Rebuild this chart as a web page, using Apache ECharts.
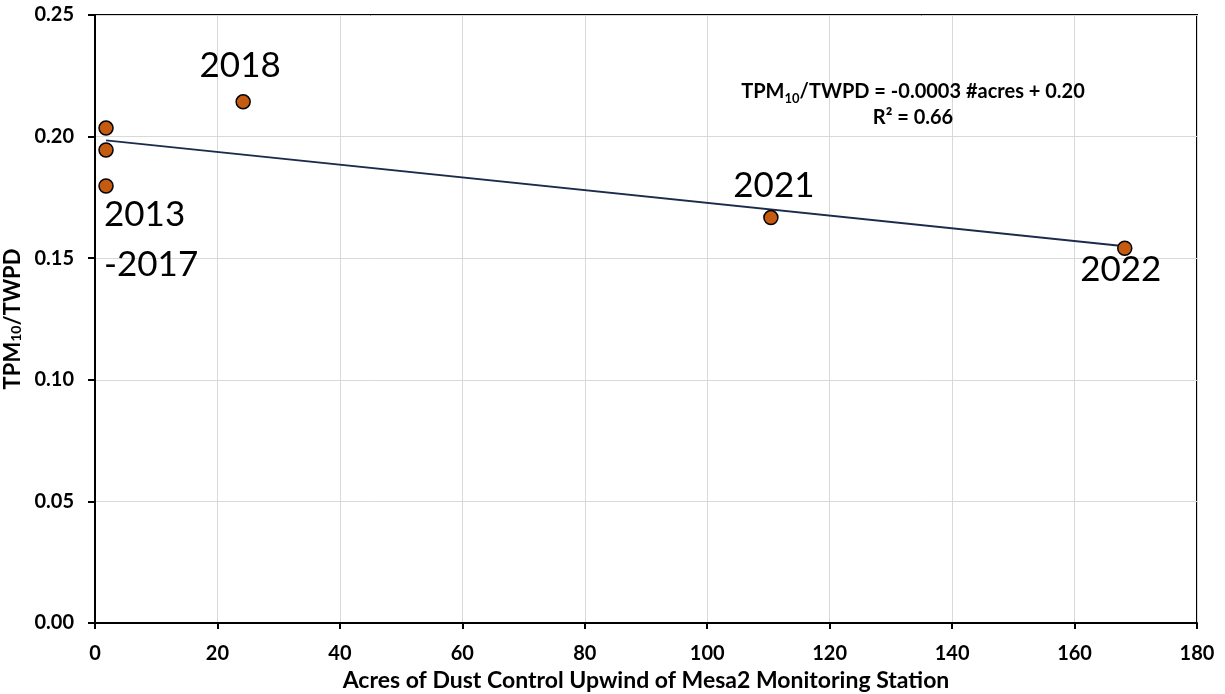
<!DOCTYPE html>
<html><head><meta charset="utf-8">
<script src="https://cdn.jsdelivr.net/npm/echarts@6/dist/echarts.min.js"></script>
<style>html,body{margin:0;padding:0;background:#fff}#c{width:1225px;height:694px}</style>
</head><body><div id="c"></div>
<script>
const acres = [1.8, 1.8, 1.8, 24.2, 110.4, 168.2];
const ratio = [0.2035, 0.1945, 0.1797, 0.2143, 0.1667, 0.1541];
const yearLabels = ['', '', '2013\n-2017', '2018', '2021', '2022'];
const xTitle = 'Acres of Dust Control Upwind of Mesa2 Monitoring Station';

// least squares fit (trendline)
const n = acres.length;
const mx = acres.reduce((a,b)=>a+b,0)/n, my = ratio.reduce((a,b)=>a+b,0)/n;
let sxx=0, sxy=0, syy=0;
for (let i=0;i<n;i++){sxx+=(acres[i]-mx)**2; sxy+=(acres[i]-mx)*(ratio[i]-my); syy+=(ratio[i]-my)**2;}
const slope = sxy/sxx, intercept = my - slope*mx, r2 = (sxy*sxy)/(sxx*syy);
const xMin = Math.min(...acres), xMax = Math.max(...acres);

const FONT = 'Lato, "Open Sans", sans-serif';
const labelPos = {
  '2013\n-2017': {position:'bottom', align:'left', distance:0, offset:[-2,-4], lineHeight:50},
  '2018': {position:'top', distance:11, offset:[-3,0]},
  '2021': {position:'top', distance:7, offset:[3,0]},
  '2022': {position:'bottom', distance:-4, offset:[-4,0]}
};
const pts = acres.map((x,i)=>{
  const lbl = yearLabels[i];
  const item = {value:[x, ratio[i]]};
  if (lbl) item.label = Object.assign({show:true, formatter:lbl, fontSize:35, fontFamily:FONT, color:'#000'}, labelPos[lbl]);
  return item;
});

const chart = echarts.init(document.getElementById('c'), null, {renderer:'canvas'});
chart.setOption({
  animation:false,
  backgroundColor:'#fff',
  title:{
    left:908, top:74, textAlign:'center',
    text:'{a|TPM}{s|10}{a|/TWPD = ' + slope.toFixed(4) + ' #acres + ' + intercept.toFixed(2) + '}\n{a|R² = ' + r2.toFixed(2) + '}',
    textStyle:{
      rich:{
        a:{fontSize:20, fontWeight:700, fontFamily:FONT, color:'#000', lineHeight:26},
        s:{fontSize:13, fontWeight:700, fontFamily:FONT, color:'#000', verticalAlign:'bottom', padding:[10,0,0,0], lineHeight:26}
      }
    }
  },
  grid:{left:95, right:28, top:15, bottom:71, show:true, borderColor:'#000', borderWidth:2, containLabel:false, outerBoundsMode:'none'},
  xAxis:{
    type:'value', min:0, max:180, interval:20,
    name:xTitle, nameLocation:'middle', nameGap:46,
    nameTextStyle:{fontSize:23, fontWeight:700, fontFamily:FONT, color:'#000'},
    axisLine:{show:true, lineStyle:{color:'#000', width:2}},
    axisTick:{show:true, length:6, lineStyle:{color:'#000', width:2}},
    axisLabel:{fontSize:20, fontWeight:700, fontFamily:FONT, color:'#000', margin:21},
    splitLine:{show:true, lineStyle:{color:'#d9d9d9', width:1}}
  },
  yAxis:{
    type:'value', min:0, max:0.25, interval:0.05,
    name:'{a|TPM}{s|10}{a|/TWPD}', nameLocation:'middle', nameGap:68, nameRotate:90,
    nameTextStyle:{rich:{
      a:{fontSize:22, fontWeight:700, fontFamily:FONT, color:'#000'},
      s:{fontSize:14, fontWeight:700, fontFamily:FONT, color:'#000', verticalAlign:'bottom'}
    }},
    axisLine:{show:true, lineStyle:{color:'#000', width:2}},
    axisTick:{show:true, length:7, lineStyle:{color:'#000', width:2}},
    axisLabel:{fontSize:20, fontWeight:700, fontFamily:FONT, color:'#000', margin:21, formatter:v=>v.toFixed(2)},
    splitLine:{show:true, lineStyle:{color:'#d9d9d9', width:1}}
  },
  series:[
    {
      type:'line', data:[[xMin, intercept+slope*xMin],[xMax, intercept+slope*xMax]],
      symbol:'none', lineStyle:{color:'#1b2b4b', width:2}, z:2, silent:true
    },
    {
      type:'scatter', data:pts, symbol:'circle', symbolSize:14,
      itemStyle:{color:'#C55A11', borderColor:'#000', borderWidth:1.5, opacity:1}, z:3
    }
  ]
});
</script></body></html>
